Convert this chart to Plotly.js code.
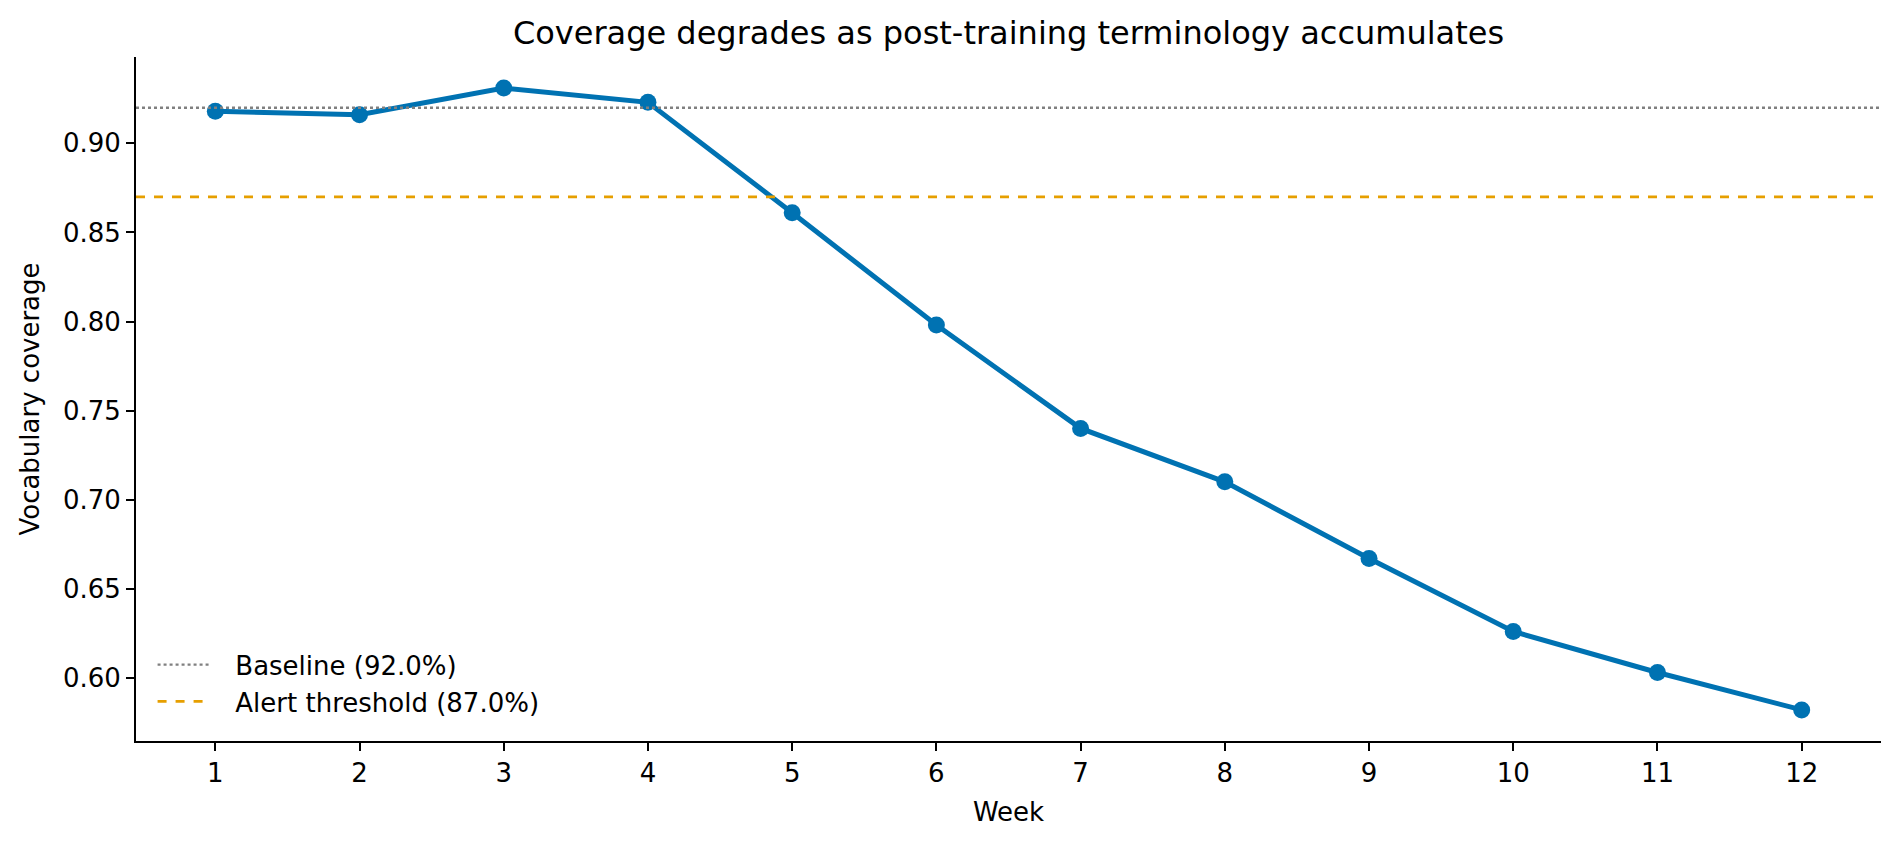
<!DOCTYPE html>
<html>
<head>
<meta charset="utf-8">
<script src="https://cdn.plot.ly/plotly-3.0.1.min.js"></script>
<style>
  html, body { margin: 0; padding: 0; background: #fff; }
  #chart { width: 1900px; height: 844px; }
</style>
</head>
<body>
<div id="chart"></div>
<script>
var weeks = [1, 2, 3, 4, 5, 6, 7, 8, 9, 10, 11, 12];
var coverage = [0.918, 0.916, 0.931, 0.923, 0.861, 0.798, 0.740, 0.710, 0.667, 0.626, 0.603, 0.582];
var baseline = 0.92;
var alertLevel = 0.87;
var yTicks = [0.60, 0.65, 0.70, 0.75, 0.80, 0.85, 0.90];

// axis limits like matplotlib's 5% margins
var xPad = (weeks[weeks.length - 1] - weeks[0]) * 0.05;
var xRange = [weeks[0] - xPad, weeks[weeks.length - 1] + xPad];
var yMin = Math.min.apply(null, coverage), yMax = Math.max.apply(null, coverage);
var yPad = (yMax - yMin) * 0.05;
var yRange = [yMin - yPad, yMax + yPad];

var font = 'DejaVu Sans, sans-serif';
var gap = '\u00a0\u00a0\u2009'; // room between legend sample and label

var traceCov = {
  x: weeks,
  y: coverage,
  mode: 'lines+markers',
  line: {color: '#0072B2', width: 5},
  marker: {color: '#0072B2', size: 17},
  showlegend: false,
  hoverinfo: 'x+y'
};

var traceBase = {
  x: xRange,
  y: [baseline, baseline],
  mode: 'lines',
  name: gap + 'Baseline (' + (baseline * 100).toFixed(1) + '%)',
  line: {color: '#808080', width: 2.4, dash: 'dot'}
};

var traceAlert = {
  x: xRange,
  y: [alertLevel, alertLevel],
  mode: 'lines',
  name: gap + 'Alert threshold (' + (alertLevel * 100).toFixed(1) + '%)',
  line: {color: '#E69F00', width: 2.8, dash: 'dash'}
};

var layout = {
  width: 1900,
  height: 844,
  paper_bgcolor: '#fff',
  plot_bgcolor: '#fff',
  font: {family: font, size: 26, color: '#000'},
  margin: {l: 136, r: 19, t: 57, b: 103},
  title: {
    text: 'Coverage degrades as post-training terminology accumulates',
    font: {family: font, size: 32, color: '#000'},
    x: 0.5, xref: 'paper', xanchor: 'center',
    y: 1 - 33 / 844, yref: 'container', yanchor: 'middle'
  },
  xaxis: {
    range: xRange,
    tickvals: weeks,
    ticktext: weeks.map(String),
    showgrid: false, zeroline: false,
    showline: true, linecolor: '#000', linewidth: 2,
    ticks: 'outside', ticklen: 8, tickwidth: 2, tickcolor: '#000',
    tickfont: {size: 26},
    title: {text: 'Week', font: {size: 26}, standoff: 16},
    automargin: false
  },
  yaxis: {
    range: yRange,
    tickvals: yTicks,
    ticktext: yTicks.map(function (v) { return v.toFixed(2); }),
    showgrid: false, zeroline: false,
    showline: true, linecolor: '#000', linewidth: 2,
    ticks: 'outside', ticklen: 8, tickwidth: 2, tickcolor: '#000',
    tickfont: {size: 26},
    title: {text: 'Vocabulary coverage', font: {size: 26}, standoff: 16},
    automargin: false
  },
  legend: {
    x: 0.0095, y: 0.023, xanchor: 'left', yanchor: 'bottom',
    bgcolor: 'rgba(0,0,0,0)',
    font: {size: 26},
    itemwidth: 51,
    tracegroupgap: 0
  },
  showlegend: true
};

Plotly.newPlot('chart', [traceCov, traceBase, traceAlert], layout, {displayModeBar: false, staticPlot: true});
</script>
</body>
</html>
